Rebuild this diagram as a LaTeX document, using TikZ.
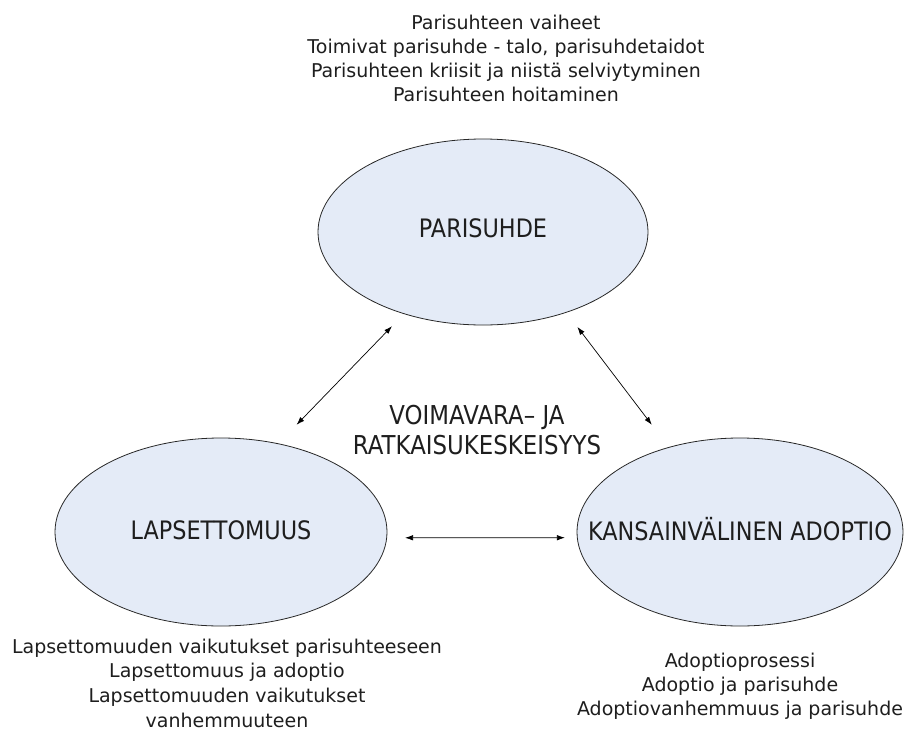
\documentclass[tikz,border=0pt]{standalone}
\usepackage{fontspec}
\setmainfont{DejaVu Sans}[FakeStretch=0.88]
\newfontfamily\widefont{DejaVu Sans}
\usepackage{tikz}
\usetikzlibrary{shapes.geometric, arrows.meta, positioning}
\definecolor{ovalfill}{RGB}{228,235,247}
\definecolor{ovaledge}{RGB}{40,40,40}
\definecolor{txt}{RGB}{30,30,30}

\begin{document}
\begin{tikzpicture}[x=1pt, y=-1pt,
    oval/.style={ellipse, draw=ovaledge, fill=ovalfill, line width=0.8pt, inner sep=0pt},
    bigtxt/.style={font=\fontsize{25.4}{30}\selectfont, text=txt, inner sep=0pt},
    note/.style={align=center, font=\widefont\fontsize{19}{24.5}\selectfont, text=txt, inner sep=0pt},
    link/.style={{Latex[length=8pt,width=5.5pt]}-{Latex[length=8pt,width=5.5pt]}, line width=0.7pt}]
    \useasboundingbox (0,0) rectangle (906,734);

    % Three themes
    \node[oval, minimum width=330pt, minimum height=186pt,
          label={[bigtxt, yshift=3.5pt]center:PARISUHDE}] (parisuhde) at (483,232) {};
    \node[oval, minimum width=332pt, minimum height=188pt,
          label={[bigtxt, yshift=1.5pt]center:LAPSETTOMUUS}] (lapsi) at (221,532) {};
    \node[oval, minimum width=326pt, minimum height=188pt,
          label={[bigtxt, yshift=2.5pt]center:KANSAINVÄLINEN ADOPTIO}] (adoptio) at (740,532) {};

    % Centre text
    \node[align=center, font=\fontsize{26}{30.5}\selectfont, text=txt, inner sep=0pt] (ydin) at (477,430)
        {VOIMAVARA– JA\\RATKAISUKESKEISYYS};

    % Topics round each theme
    \node[note, font=\widefont\fontsize{19}{24}\selectfont, anchor=north] (aiheet1) at (506,14.5)
        {Parisuhteen vaiheet\\Toimivat parisuhde - talo, parisuhdetaidot\\Parisuhteen kriisit ja niistä selviytyminen\\Parisuhteen hoitaminen};
    \node[note, font=\widefont\fontsize{19}{24.7}\selectfont, anchor=north] (aiheet2) at (227,638.5)
        {Lapsettomuuden vaikutukset parisuhteeseen\\Lapsettomuus ja adoptio\\Lapsettomuuden vaikutukset\\vanhemmuuteen};
    \node[note, font=\widefont\fontsize{19}{24}\selectfont, anchor=north] (aiheet3) at (740,652.5)
        {Adoptioprosessi\\Adoptio ja parisuhde\\Adoptiovanhemmuus ja parisuhde};

    % Arrows between the themes
    \draw[link, shorten <=26pt, shorten >=17pt] (lapsi.57.7) -- (parisuhde.226);
    \draw[link, shorten <=18pt, shorten >=28pt] (parisuhde.316) -- (adoptio.130.9);
    \draw[link, shorten <=18pt, shorten >=12pt] (lapsi.-2) -- (adoptio.182);
\end{tikzpicture}
\end{document}
